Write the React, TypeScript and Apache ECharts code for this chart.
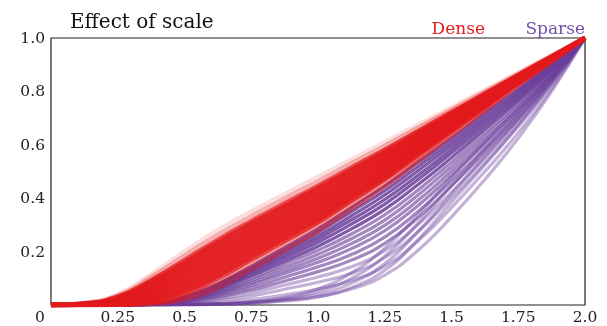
import React, { useEffect, useRef } from 'react';
import * as echarts from 'echarts';

const xs = [0, 0.125, 0.25, 0.375, 0.5, 0.625, 0.75, 0.875, 1, 1.125, 1.25, 1.375, 1.5, 1.625, 1.75, 1.875, 2];
const xTickLabels = ['0', '0.25', '0.5', '0.75', '1.0', '1.25', '1.5', '1.75', '2.0'];
const yTickLabels = ['', '0.2', '0.4', '0.6', '0.8', '1.0'];
const titleText = 'Effect of scale';
const seriesNames = ['Dense', 'Sparse'];

// Dense (red) curves, top edge first
const denseCurves = [
  [0, .008, .04, .115, .20, .28, .35, .415, .48, .545, .61, .675, .74, .805, .87, .935, 1],
  [0, .007, .035, .104, .184, .262, .332, .398, .463, .53, .596, .664, .731, .799, .866, .933, 1],
  [0, .006, .031, .093, .168, .244, .314, .38, .446, .514, .582, .652, .722, .792, .862, .931, 1],
  [0, .005, .028, .088, .16, .235, .305, .371, .438, .506, .575, .646, .718, .789, .86, .93, 1],
  [0, .004, .025, .082, .152, .226, .296, .363, .429, .499, .568, .641, .713, .786, .858, .929, 1],
  [0, .004, .023, .077, .144, .217, .287, .354, .421, .491, .561, .635, .709, .782, .856, .928, 1],
  [0, .004, .021, .071, .136, .208, .278, .345, .412, .483, .554, .629, .704, .779, .854, .927, 1],
  [0, .003, .019, .066, .128, .199, .269, .336, .404, .475, .547, .623, .70, .776, .852, .926, 1],
  [0, .003, .017, .06, .12, .19, .26, .328, .395, .468, .54, .618, .695, .773, .85, .925, 1],
  [0, .003, .015, .055, .112, .181, .251, .319, .387, .46, .533, .612, .691, .769, .848, .924, 1],
  [0, .002, .013, .049, .104, .172, .242, .31, .378, .452, .526, .606, .686, .766, .846, .923, 1],
  [0, .002, .011, .044, .096, .163, .233, .301, .37, .445, .519, .60, .682, .763, .844, .922, 1],
  [0, .002, .009, .038, .088, .154, .224, .293, .361, .437, .512, .595, .677, .76, .842, .921, 1],
  [0, .002, .008, .033, .08, .145, .215, .284, .353, .429, .505, .589, .673, .756, .84, .92, 1],
  [0, .001, .006, .027, .072, .136, .206, .275, .344, .421, .498, .583, .668, .753, .838, .919, 1],
  [0, .001, .005, .022, .065, .127, .197, .266, .335, .413, .491, .578, .664, .75, .836, .918, 1],
  [0, .001, .004, .018, .058, .118, .188, .258, .327, .406, .484, .572, .659, .747, .834, .917, 1],
  [0, 0, .003, .014, .05, .109, .179, .249, .318, .398, .477, .566, .655, .744, .832, .916, 1],
  [0, 0, .002, .01, .042, .10, .17, .24, .31, .39, .47, .56, .65, .74, .83, .915, 1],
  [0, 0, .001, .007, .03, .085, .155, .226, .297, .378, .459, .551, .643, .735, .827, .913, 1],
  [0, 0, .001, .005, .02, .066, .134, .205, .277, .36, .443, .538, .633, .727, .821, .911, 1],
];

// Sparse (purple) curves, top edge first
const sparseCurves = [
  [0, 0, 0, .003, .03, .08, .145, .215, .285, .365, .445, .535, .625, .72, .81, .905, 1],
  [0, 0, 0, .003, .029, .076, .138, .205, .273, .35, .428, .519, .611, .708, .801, .9, 1],
  [0, 0, 0, .003, .027, .072, .131, .196, .26, .334, .412, .503, .597, .697, .793, .895, 1],
  [0, 0, 0, .003, .026, .068, .124, .186, .248, .319, .395, .486, .583, .685, .784, .89, 1],
  [0, 0, 0, .002, .024, .064, .117, .176, .235, .303, .378, .47, .569, .673, .775, .885, 1],
  [0, 0, 0, .002, .022, .06, .109, .164, .22, .285, .358, .451, .552, .659, .765, .879, 1],
  [0, 0, 0, .002, .02, .055, .1, .153, .205, .266, .338, .431, .535, .645, .754, .873, 1],
  [0, 0, 0, .002, .019, .05, .092, .141, .19, .248, .318, .412, .519, .631, .744, .867, 1],
  [0, 0, 0, .002, .017, .046, .083, .129, .175, .23, .298, .392, .502, .617, .733, .861, 1],
  [0, 0, 0, .002, .015, .041, .075, .118, .16, .211, .278, .373, .485, .603, .723, .855, 1],
  [0, 0, 0, .001, .013, .036, .065, .104, .143, .189, .254, .35, .465, .586, .71, .848, 1],
  [0, 0, 0, .001, .011, .03, .055, .09, .125, .168, .231, .327, .446, .57, .698, .841, 1],
  [0, 0, 0, .001, .008, .024, .044, .075, .105, .143, .204, .301, .423, .551, .684, .833, 1],
  [0, 0, 0, .001, .006, .018, .033, .059, .085, .119, .177, .275, .401, .532, .67, .825, 1],
  [0, 0, 0, 0, .003, .01, .02, .038, .06, .092, .146, .24, .365, .5, .645, .81, 1],
  [0, 0, 0, 0, .001, .003, .008, .018, .032, .06, .112, .205, .33, .47, .625, .8, 1],
  [0, 0, 0, 0, 0, .002, .006, .015, .03, .066, .13, .245, .385, .525, .672, .83, 1],
  [0, 0, 0, 0, .001, .004, .01, .02, .04, .082, .155, .275, .415, .555, .695, .842, 1],
  [0, 0, 0, 0, .001, .004, .01, .025, .05, .1, .183, .307, .447, .583, .716, .853, 1],
  [0, 0, 0, 0, .002, .005, .012, .028, .06, .12, .213, .338, .478, .61, .736, .863, 1],
];

const RED = '#e31a1c';
const PURPLE = '#6a3d9a';
const FONT = 'DejaVu Serif';

export default function App() {
  const ref = useRef<HTMLDivElement>(null);
  useEffect(() => {
    if (!ref.current) return;
    const chart = echarts.init(ref.current, null, { renderer: 'svg' });
    const mk = (ys: number[], name: string, color: string, width: number, opacity: number) => ({
      type: 'line',
      name,
      data: xs.map((x, i) => [x, ys[i]]),
      showSymbol: false,
      symbol: 'none',
      smooth: 0.5,
      silent: true,
      lineStyle: { color, width, opacity },
    });
    const series: any[] = [];
    sparseCurves.forEach((c, i) => {
      const op = i < 6 ? 0.85 : i < 12 ? 0.62 : 0.4;
      series.push(mk(c, seriesNames[1], PURPLE, 3.2, op));
    });
    denseCurves.forEach((c, i) => {
      const op = i === 0 ? 0.15 : i === 1 ? 0.35 : i >= 19 ? 0.45 : 0.78;
      series.push(mk(c, seriesNames[0], RED, 4.5, op));
    });
    chart.setOption({
      animation: false,
      grid: {
        left: 51, right: 22, top: 38, bottom: 21,
        show: true, borderColor: '#222', borderWidth: 1.2, backgroundColor: 'transparent',
      },
      xAxis: {
        type: 'value', min: 0, max: 2, interval: 0.25,
        axisLine: { show: false }, axisTick: { show: false }, splitLine: { show: false },
        axisLabel: {
          margin: 4, fontFamily: FONT, fontSize: 15.5, color: '#222',
          formatter: (v: number) => { const k = Math.round(v / 0.25); return k === 0 ? '' : xTickLabels[k]; },
        },
      },
      yAxis: {
        type: 'value', min: 0, max: 1, interval: 0.2,
        axisLine: { show: false }, axisTick: { show: false }, splitLine: { show: false },
        axisLabel: {
          margin: 6, fontFamily: FONT, fontSize: 15.5, color: '#222',
          formatter: (v: number) => yTickLabels[Math.round(v / 0.2)],
        },
      },
      graphic: [
        { type: 'text', x: 70, y: 21, style: { text: titleText, font: `20px "${FONT}"`, fill: '#111', verticalAlign: 'middle', align: 'left' } },
        { type: 'text', x: 485, y: 28, style: { text: seriesNames[0], font: `17px "${FONT}"`, fill: RED, verticalAlign: 'middle', align: 'right' } },
        { type: 'text', x: 585, y: 28, style: { text: seriesNames[1], font: `17px "${FONT}"`, fill: '#7353aa', verticalAlign: 'middle', align: 'right' } },
        { type: 'text', x: 40, y: 317, style: { text: xTickLabels[0], font: `15.5px "${FONT}"`, fill: '#222', verticalAlign: 'middle', align: 'center' } },
      ],
      series,
    });
    return () => chart.dispose();
  }, []);
  return <div ref={ref} style={{ position: 'fixed', left: 0, top: 0, width: 607, height: 326 }} />;
}
